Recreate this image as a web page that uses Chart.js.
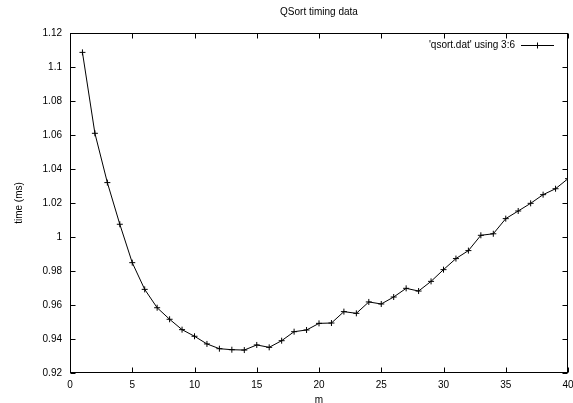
<!DOCTYPE html>
<html>
<head>
<meta charset="utf-8">
<script src="https://cdn.jsdelivr.net/npm/chart.js@4.4.0/dist/chart.umd.min.js"></script>
<style>
  html, body { margin: 0; padding: 0; background: #fff; }
  #wrap { width: 573px; height: 403px; }
</style>
</head>
<body>
<div id="wrap"><canvas id="qsortChart" width="573" height="403"></canvas></div>
<script>
// QSort timing data (m vs time in ms)
const mValues = [1, 2, 3, 4, 5, 6, 7, 8, 9, 10,
                 11, 12, 13, 14, 15, 16, 17, 18, 19, 20,
                 21, 22, 23, 24, 25, 26, 27, 28, 29, 30,
                 31, 32, 33, 34, 35, 36, 37, 38, 39, 40];
const timeValues = [1.1086, 1.0610, 1.0320, 1.0075, 0.9849, 0.9692, 0.9584, 0.9516, 0.9455, 0.9416,
                    0.9371, 0.9343, 0.9337, 0.9335, 0.9365, 0.9351, 0.9390, 0.9443, 0.9453, 0.9492,
                    0.9494, 0.9561, 0.9551, 0.9618, 0.9606, 0.9647, 0.9698, 0.9682, 0.9739, 0.9808,
                    0.9873, 0.9920, 1.0010, 1.0019, 1.0108, 1.0153, 1.0198, 1.0249, 1.0284, 1.0343];
const xTicks = [0, 5, 10, 15, 20, 25, 30, 35, 40];
const yTicks = [0.92, 0.94, 0.96, 0.98, 1, 1.02, 1.04, 1.06, 1.08, 1.1, 1.12];
const seriesLabel = "'qsort.dat' using 3:6";

const FONT = 'Liberation Sans, Arial, sans-serif';

// gnuplot-style frame: border, mirrored inward ticks, axis titles, legend
const gnuplotFrame = {
    id: 'gnuplotFrame',
    afterDraw(chart) {
        const ctx = chart.ctx;
        const a = chart.chartArea;
        const xs = chart.scales.x, ys = chart.scales.y;
        const L = Math.round(a.left) + 0.5, R = Math.round(a.right) - 0.5;
        const T = Math.round(a.top) + 0.5, B = Math.round(a.bottom) - 0.5;
        ctx.save();
        ctx.strokeStyle = '#000';
        ctx.lineWidth = 1;
        ctx.strokeRect(L, T, R - L, B - T);
        ctx.beginPath();
        xTicks.forEach(v => {
            const px = Math.round(xs.getPixelForValue(v)) + 0.5;
            ctx.moveTo(px, B); ctx.lineTo(px, B - 5);
            ctx.moveTo(px, T); ctx.lineTo(px, T + 5);
        });
        yTicks.forEach(v => {
            const py = Math.round(ys.getPixelForValue(v)) + 0.5;
            ctx.moveTo(L, py); ctx.lineTo(L + 5, py);
            ctx.moveTo(R, py); ctx.lineTo(R - 5, py);
        });
        ctx.stroke();

        // axis titles
        ctx.fillStyle = '#000';
        ctx.font = '10px ' + FONT;
        ctx.textAlign = 'center';
        ctx.textBaseline = 'middle';
        ctx.fillText('m', (a.left + a.right) / 2, 400);
        ctx.save();
        ctx.translate(19, (a.top + a.bottom) / 2);
        ctx.rotate(-Math.PI / 2);
        ctx.fillText('time (ms)', 0, 0);
        ctx.restore();

        // legend (top right, inside plot)
        const ly = 45;
        ctx.textAlign = 'right';
        ctx.fillText(seriesLabel, 515, ly);
        ctx.beginPath();
        ctx.moveTo(521, ly + 0.5); ctx.lineTo(554, ly + 0.5);
        ctx.moveTo(537.5, ly - 2.5); ctx.lineTo(537.5, ly + 3.5);
        ctx.moveTo(534.5, ly + 0.5); ctx.lineTo(540.5, ly + 0.5);
        ctx.stroke();
        ctx.restore();
    }
};

const ctx = document.getElementById('qsortChart').getContext('2d');
new Chart(ctx, {
    type: 'line',
    data: {
        datasets: [{
            label: seriesLabel,
            data: mValues.map((m, i) => ({ x: m, y: timeValues[i] })),
            borderColor: '#000',
            backgroundColor: '#000',
            borderWidth: 1,
            pointStyle: 'cross',
            pointRadius: 3,
            pointBorderWidth: 1,
            pointBorderColor: '#000',
            tension: 0,
            fill: false
        }]
    },
    options: {
        responsive: false,
        animation: false,
        layout: { autoPadding: false, padding: { left: 0, right: 5, top: 0, bottom: 0 } },
        plugins: {
            legend: { display: false },
            tooltip: { enabled: false },
            title: {
                display: true,
                text: 'QSort timing data',
                fullSize: false,
                color: '#000',
                font: { family: FONT, size: 10, weight: 'normal' },
                padding: { top: 6, bottom: 15 }
            }
        },
        scales: {
            x: {
                type: 'linear',
                min: 0,
                max: 40,
                afterFit: s => {
                    s.height = 30;
                    s.paddingLeft = 0;
                    s.paddingRight = 0;
                },
                afterBuildTicks: s => { s.ticks = xTicks.map(v => ({ value: v })); },
                grid: { display: false, drawTicks: false },
                border: { display: false },
                ticks: {
                    color: '#000',
                    padding: 6,
                    maxRotation: 0,
                    font: { family: FONT, size: 10 }
                }
            },
            y: {
                type: 'linear',
                min: 0.92,
                max: 1.12,
                afterFit: s => {
                    s.width = 70;
                    s.paddingTop = 0;
                    s.paddingBottom = 0;
                },
                afterBuildTicks: s => { s.ticks = yTicks.map(v => ({ value: v })); },
                grid: { display: false, drawTicks: false },
                border: { display: false },
                ticks: {
                    color: '#000',
                    padding: 8,
                    font: { family: FONT, size: 10 },
                    callback: v => String(Math.round(v * 100) / 100)
                }
            }
        }
    },
    plugins: [gnuplotFrame]
});
</script>
</body>
</html>
